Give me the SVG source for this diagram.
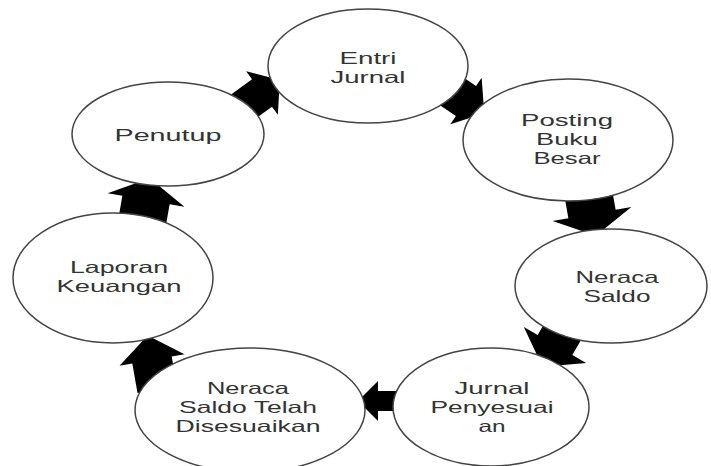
<svg xmlns="http://www.w3.org/2000/svg" width="711" height="466" viewBox="0 0 711 466">
<style>
.node ellipse{fill:#fff;stroke:#444;stroke-width:1.5}
.node text{font-family:"Liberation Sans",Arial,sans-serif;font-size:16.5px;fill:#333;text-anchor:middle}
.arr{fill:#000}
</style>
<rect width="711" height="466" fill="#fff"/>
<g id="connectors">
<polygon class="arr" transform="translate(262,93) rotate(-36)" points="-30,-17 0,-17 0,-27 22,0 0,27 0,17 -30,17"/>
<polygon class="arr" transform="translate(466,101) rotate(34)" points="-30,-18 0,-18 0,-28 22,0 0,28 0,18 -30,18"/>
<polygon class="arr" transform="translate(592,214) rotate(80)" points="-30,-24 0,-24 0,-40 22,0 0,40 0,24 -30,24"/>
<polygon class="arr" transform="translate(555,345) rotate(120)" points="-30,-20 0,-20 0,-36 25,0 0,36 0,20 -30,20"/>
<polygon class="arr" transform="translate(378,401) rotate(180)" points="-25,-10 0,-10 0,-20 20,0 0,20 0,10 -25,10"/>
<polygon class="arr" transform="translate(152,360) rotate(-100)" points="-30,-20 0,-20 0,-33 25,0 0,33 0,20 -30,20"/>
<polygon class="arr" transform="translate(146,200) rotate(-80)" points="-30,-24 0,-24 0,-39 22,0 0,39 0,24 -30,24"/>
</g>
<g id="entri-jurnal" class="node">
<ellipse cx="368" cy="66" rx="100" ry="57"/>
<text x="368" y="64" textLength="57" lengthAdjust="spacingAndGlyphs">Entri</text>
<text x="368" y="83" textLength="75" lengthAdjust="spacingAndGlyphs">Jurnal</text>
</g>
<g id="posting-buku-besar" class="node">
<ellipse cx="568" cy="140" rx="105" ry="61"/>
<text x="567" y="126" textLength="92" lengthAdjust="spacingAndGlyphs">Posting</text>
<text x="567" y="145" textLength="62" lengthAdjust="spacingAndGlyphs">Buku</text>
<text x="567" y="164" textLength="67" lengthAdjust="spacingAndGlyphs">Besar</text>
</g>
<g id="neraca-saldo" class="node">
<ellipse cx="611" cy="286" rx="96" ry="57"/>
<text x="617" y="283" textLength="83" lengthAdjust="spacingAndGlyphs">Neraca</text>
<text x="617" y="302" textLength="67" lengthAdjust="spacingAndGlyphs">Saldo</text>
</g>
<g id="jurnal-penyesuaian" class="node">
<ellipse cx="491" cy="407" rx="98" ry="59"/>
<text x="492" y="394" textLength="75" lengthAdjust="spacingAndGlyphs">Jurnal</text>
<text x="492" y="413" textLength="123" lengthAdjust="spacingAndGlyphs">Penyesuai</text>
<text x="492" y="432" textLength="27" lengthAdjust="spacingAndGlyphs">an</text>
</g>
<g id="neraca-saldo-disesuaikan" class="node">
<ellipse cx="250" cy="410" rx="115" ry="62"/>
<text x="248" y="394" textLength="82" lengthAdjust="spacingAndGlyphs">Neraca</text>
<text x="248" y="413" textLength="138" lengthAdjust="spacingAndGlyphs">Saldo Telah</text>
<text x="248" y="432" textLength="145" lengthAdjust="spacingAndGlyphs">Disesuaikan</text>
</g>
<g id="laporan-keuangan" class="node">
<ellipse cx="113" cy="278" rx="100" ry="65"/>
<text x="119" y="273" textLength="98" lengthAdjust="spacingAndGlyphs">Laporan</text>
<text x="119" y="292" textLength="125" lengthAdjust="spacingAndGlyphs">Keuangan</text>
</g>
<g id="penutup" class="node">
<ellipse cx="168" cy="134" rx="96" ry="52"/>
<text x="168" y="141" textLength="107" lengthAdjust="spacingAndGlyphs">Penutup</text>
</g>
</svg>
